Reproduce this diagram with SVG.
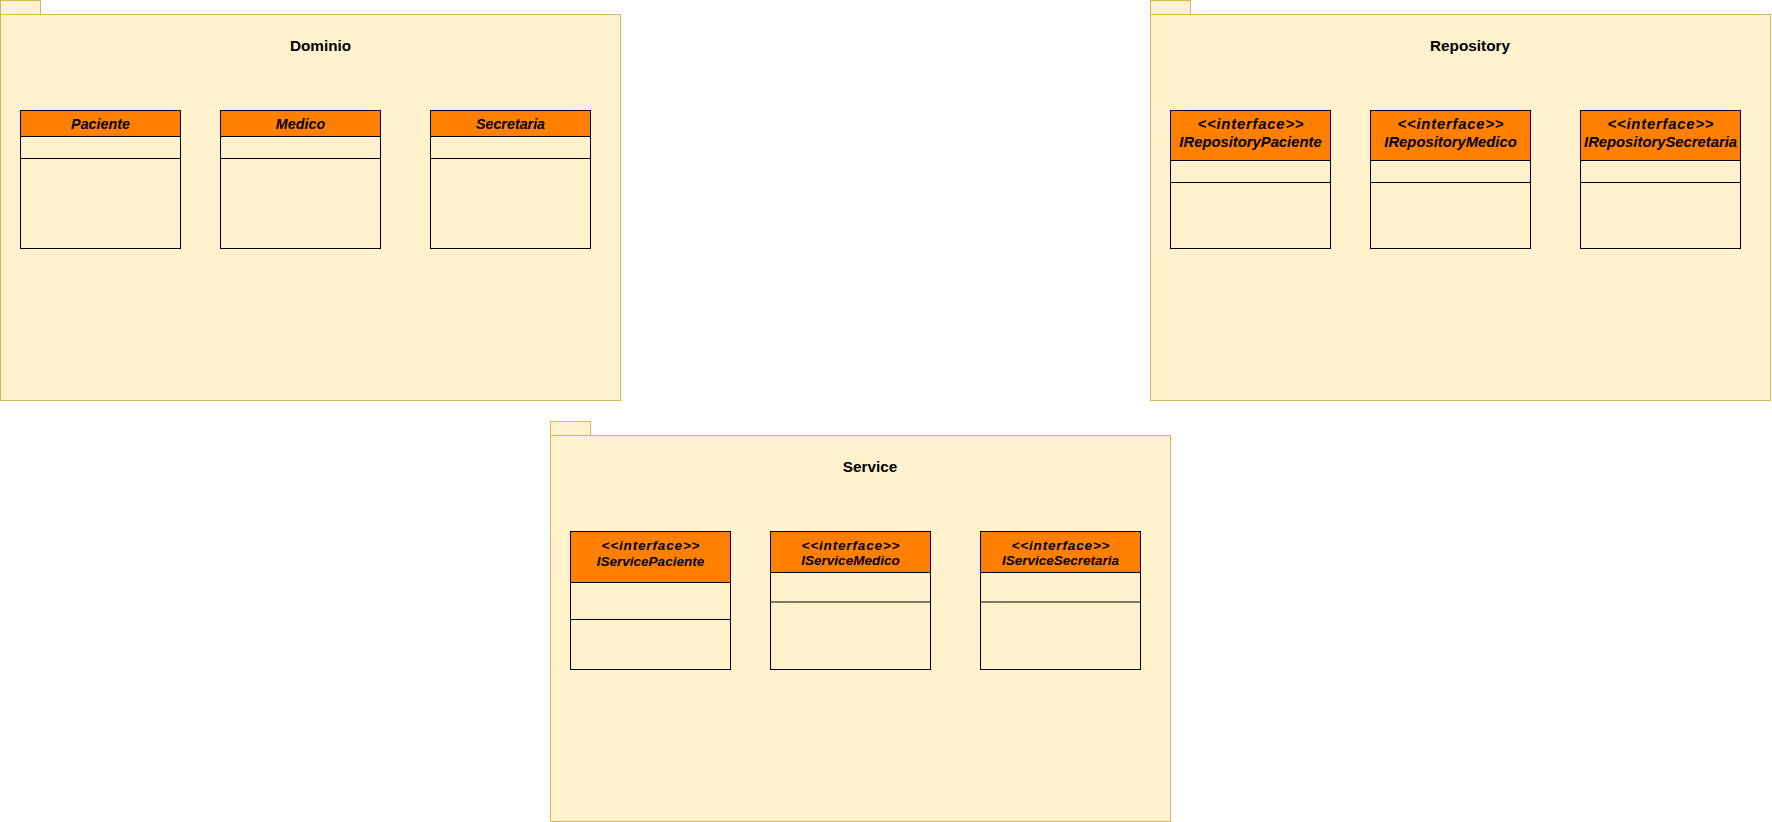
<svg xmlns="http://www.w3.org/2000/svg" width="1772" height="822" viewBox="0 0 1772 822">
<style>
.pkg{fill:#fff2cc;stroke:#d6b656;stroke-width:1}
.pname{font-family:"Liberation Sans",Arial,sans-serif;font-size:15.3px;font-weight:bold;fill:#000;text-anchor:middle}
.cls{fill:none;stroke:#000;stroke-width:1}
.hdr{fill:#ff8000;stroke:#000;stroke-width:1}
.ln{stroke:#000;stroke-width:1;fill:none}
.cname{font-family:"Liberation Sans",Arial,sans-serif;font-size:14.3px;font-weight:bold;font-style:italic;fill:#000;text-anchor:middle}
.rname{font-family:"Liberation Sans",Arial,sans-serif;font-size:14.8px;font-weight:bold;font-style:italic;fill:#000;text-anchor:middle}
.sname{font-family:"Liberation Sans",Arial,sans-serif;font-size:13.5px;font-weight:bold;font-style:italic;fill:#000;text-anchor:middle}
</style>
<rect width="1772" height="822" fill="#ffffff"/>

<g id="pkg-dominio">
<rect class="pkg" x="0.5" y="0.5" width="40" height="14"/>
<rect class="pkg" x="0.5" y="14.5" width="620" height="386"/>
<text class="pname" x="320.5" y="51">Dominio</text>
</g>
<g id="pkg-repository">
<rect class="pkg" x="1150.5" y="0.5" width="40" height="14"/>
<rect class="pkg" x="1150.5" y="14.5" width="620" height="386"/>
<text class="pname" x="1470" y="51">Repository</text>
</g>
<g id="pkg-service">
<rect class="pkg" x="550.5" y="421.5" width="40" height="14"/>
<rect class="pkg" x="550.5" y="435.5" width="620" height="386"/>
<text class="pname" x="870" y="472">Service</text>
</g>

<g id="cls-paciente">
<rect class="hdr" x="20.5" y="110.5" width="160" height="26"/>
<rect class="cls" x="20.5" y="110.5" width="160" height="138"/>
<line class="ln" x1="20.5" y1="158.5" x2="180.5" y2="158.5"/>
<text class="cname" x="100.5" y="128.5">Paciente</text>
</g>
<g id="cls-medico">
<rect class="hdr" x="220.5" y="110.5" width="160" height="26"/>
<rect class="cls" x="220.5" y="110.5" width="160" height="138"/>
<line class="ln" x1="220.5" y1="158.5" x2="380.5" y2="158.5"/>
<text class="cname" x="300.5" y="128.5">Medico</text>
</g>
<g id="cls-secretaria">
<rect class="hdr" x="430.5" y="110.5" width="160" height="26"/>
<rect class="cls" x="430.5" y="110.5" width="160" height="138"/>
<line class="ln" x1="430.5" y1="158.5" x2="590.5" y2="158.5"/>
<text class="cname" x="510.5" y="128.5">Secretaria</text>
</g>

<g id="cls-irepositorypaciente">
<rect class="hdr" x="1170.5" y="110.5" width="160" height="50"/>
<rect class="cls" x="1170.5" y="110.5" width="160" height="138"/>
<line class="ln" x1="1170.5" y1="182.5" x2="1330.5" y2="182.5"/>
<text class="rname" x="1250.5" y="128.5" textLength="106" lengthAdjust="spacing">&lt;&lt;interface&gt;&gt;</text>
<text class="rname" x="1250.5" y="147">IRepositoryPaciente</text>
</g>
<g id="cls-irepositorymedico">
<rect class="hdr" x="1370.5" y="110.5" width="160" height="50"/>
<rect class="cls" x="1370.5" y="110.5" width="160" height="138"/>
<line class="ln" x1="1370.5" y1="182.5" x2="1530.5" y2="182.5"/>
<text class="rname" x="1450.5" y="128.5" textLength="106" lengthAdjust="spacing">&lt;&lt;interface&gt;&gt;</text>
<text class="rname" x="1450.5" y="147">IRepositoryMedico</text>
</g>
<g id="cls-irepositorysecretaria">
<rect class="hdr" x="1580.5" y="110.5" width="160" height="50"/>
<rect class="cls" x="1580.5" y="110.5" width="160" height="138"/>
<line class="ln" x1="1580.5" y1="182.5" x2="1740.5" y2="182.5"/>
<text class="rname" x="1660.5" y="128.5" textLength="106" lengthAdjust="spacing">&lt;&lt;interface&gt;&gt;</text>
<text class="rname" x="1660.5" y="147">IRepositorySecretaria</text>
</g>

<g id="cls-iservicepaciente">
<rect class="hdr" x="570.5" y="531.5" width="160" height="51"/>
<rect class="cls" x="570.5" y="531.5" width="160" height="138"/>
<line class="ln" x1="570.5" y1="619.5" x2="730.5" y2="619.5"/>
<text class="sname" x="650.5" y="550" textLength="98" lengthAdjust="spacing">&lt;&lt;interface&gt;&gt;</text>
<text class="sname" x="650.5" y="565.5">IServicePaciente</text>
</g>
<g id="cls-iservicemedico">
<rect class="hdr" x="770.5" y="531.5" width="160" height="41"/>
<rect class="cls" x="770.5" y="531.5" width="160" height="138"/>
<line class="ln" x1="770.5" y1="602" x2="930.5" y2="602"/>
<text class="sname" x="850.5" y="549.5" textLength="98" lengthAdjust="spacing">&lt;&lt;interface&gt;&gt;</text>
<text class="sname" x="850.5" y="565">IServiceMedico</text>
</g>
<g id="cls-iservicesecretaria">
<rect class="hdr" x="980.5" y="531.5" width="160" height="41"/>
<rect class="cls" x="980.5" y="531.5" width="160" height="138"/>
<line class="ln" x1="980.5" y1="602" x2="1140.5" y2="602"/>
<text class="sname" x="1060.5" y="549.5" textLength="98" lengthAdjust="spacing">&lt;&lt;interface&gt;&gt;</text>
<text class="sname" x="1060.5" y="565">IServiceSecretaria</text>
</g>

<g id="connectors"></g>
</svg>
